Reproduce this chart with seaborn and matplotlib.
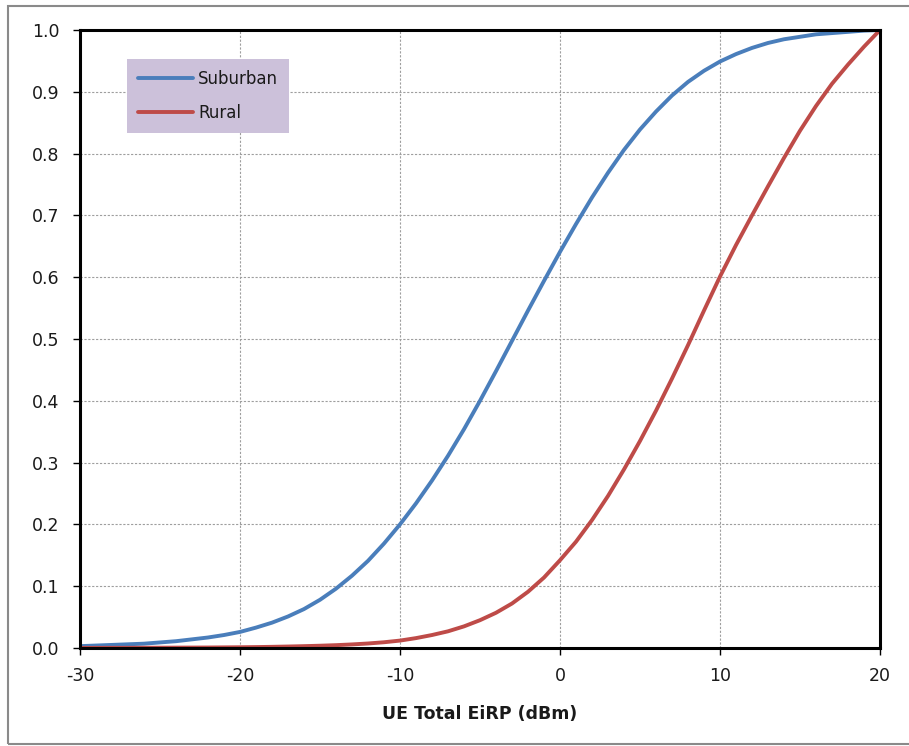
import numpy as np
import pandas as pd
import matplotlib
matplotlib.use("Agg")
import matplotlib.pyplot as plt
import seaborn as sns
from matplotlib.patches import Rectangle

# ---- data ----
eirp_dbm = list(range(-30, 21))
suburban = [0.003, 0.004, 0.005, 0.006, 0.007, 0.009, 0.011, 0.014, 0.017, 0.021,
            0.026, 0.033, 0.041, 0.051, 0.063, 0.078, 0.096, 0.117, 0.141, 0.169,
            0.200, 0.234, 0.271, 0.311, 0.354, 0.400, 0.448, 0.497, 0.546, 0.594,
            0.641, 0.686, 0.729, 0.769, 0.806, 0.839, 0.868, 0.894, 0.916, 0.934,
            0.949, 0.961, 0.971, 0.979, 0.985, 0.989, 0.993, 0.995, 0.997, 0.999,
            1.000]
rural = [0.0002, 0.0002, 0.0003, 0.0003, 0.0004, 0.0005, 0.0006, 0.0007, 0.0008, 0.0010,
         0.0012, 0.0015, 0.0019, 0.0024, 0.0030, 0.0037, 0.0046, 0.0058, 0.0073, 0.0093,
         0.012, 0.016, 0.021, 0.027, 0.035, 0.045, 0.057, 0.072, 0.091, 0.114,
         0.142, 0.172, 0.207, 0.246, 0.289, 0.335, 0.384, 0.436, 0.490, 0.546,
         0.601, 0.652, 0.700, 0.747, 0.793, 0.837, 0.877, 0.913, 0.944, 0.973,
         1.000]
series_names = ["Suburban", "Rural"]
series_colors = ["#4A7EBB", "#BE4B48"]
x_ticks = [-30, -20, -10, 0, 10, 20]
y_ticks = [round(0.1 * i, 1) for i in range(11)]
x_label = "UE Total EiRP (dBm)"

df = pd.DataFrame({
    "EiRP": eirp_dbm * 2,
    "CDF": suburban + rural,
    "Scenario": [series_names[0]] * len(eirp_dbm) + [series_names[1]] * len(eirp_dbm),
})

sns.set_theme(style="white")
plt.rcParams["font.family"] = ["DejaVu Sans"]

fig = plt.figure(figsize=(9.09, 7.46), dpi=100)
ax = fig.add_axes([80 / 909, 1 - 648 / 746, 800 / 909, 618 / 746])

sns.lineplot(data=df, x="EiRP", y="CDF", hue="Scenario",
             palette=dict(zip(series_names, series_colors)),
             linewidth=2.8, ax=ax, legend=True)
for ln in ax.get_lines():
    ln.set_solid_joinstyle("round")

ax.set_xlim(-30, 20)
ax.set_ylim(0, 1)
ax.set_xticks(x_ticks)
ax.set_yticks(y_ticks)
ax.set_xticklabels([str(t) for t in x_ticks], fontsize=12.5, color="#1a1a1a")
ax.set_yticklabels([f"{t:.1f}" for t in y_ticks], fontsize=12.5, color="#1a1a1a")
ax.tick_params(axis="both", direction="out", length=5, width=1, color="black",
               bottom=True, left=True)
ax.tick_params(axis="x", pad=9)
ax.tick_params(axis="y", pad=10)
ax.set_xlabel(x_label, fontsize=12.5, fontweight="bold", labelpad=14, color="#1a1a1a")
ax.set_ylabel("")

ax.grid(True, color="#9e9e9e", linestyle=(0, (2, 1.5)), linewidth=0.8)
for s in ax.spines.values():
    s.set_visible(True)
    s.set_color("black")
    s.set_linewidth(2.2)

handles, labels = ax.get_legend_handles_labels()
leg = ax.legend(handles, labels, loc="upper left", bbox_to_anchor=(0.059, 0.953),
                frameon=True, fancybox=False, fontsize=12, handlelength=3.3,
                handletextpad=0.3, labelspacing=0.95, borderpad=0.65,
                borderaxespad=0)
leg.get_frame().set_facecolor("#CCC1DA")
leg.get_frame().set_edgecolor("none")
leg.get_frame().set_alpha(1)
for line in leg.get_lines():
    line.set_linewidth(2.8)
for t in leg.get_texts():
    t.set_color("#1a1a1a")

# outer chart frame
fig.patches.append(Rectangle((8 / 909, 1 - 744 / 746), 1.2, 738 / 746,
                             transform=fig.transFigure, fill=False,
                             edgecolor="#8a8a8a", linewidth=1.5))

fig.savefig("out.png", dpi=100)
